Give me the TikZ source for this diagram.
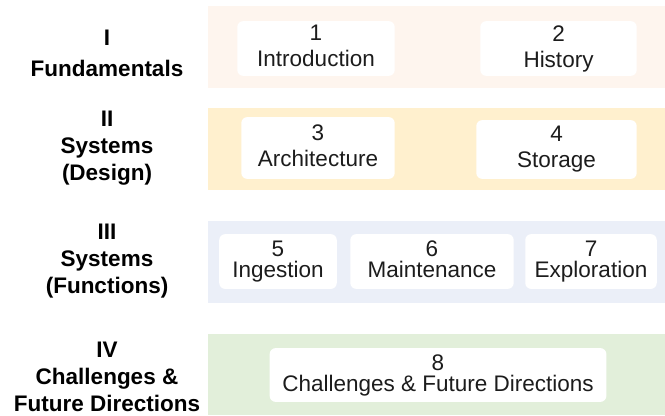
\documentclass[tikz,border=0pt]{standalone}
\usepackage{fontspec}
\setmainfont{Liberation Sans}

\definecolor{bandone}{HTML}{FEF5EE}
\definecolor{bandtwo}{HTML}{FFF0CE}
\definecolor{bandthree}{HTML}{EBEFF8}
\definecolor{bandfour}{HTML}{E2EFDA}
\definecolor{ink}{HTML}{1C1C1C}

\tikzset{
  chapter/.style={fill=white, rounded corners=6bp, align=center, text=ink,
    inner sep=0pt, font=\fontsize{22.5bp}{26bp}\selectfont},
  part/.style={align=center, text=black, inner sep=0pt,
    font=\bfseries\fontsize{22.5bp}{27bp}\selectfont}
}

\begin{document}
\begin{tikzpicture}[x=1bp, y=-1bp]
    \useasboundingbox (0, 0) rectangle (665, 415);

    \fill[bandone] (208, 6) rectangle (665, 88);
    \fill[bandtwo] (208, 108) rectangle (665, 190);
    \fill[bandthree] (208, 221) rectangle (665, 303);
    \fill[bandfour] (208, 334) rectangle (665, 415);

    \node[part] (fund) at (107, 53.5) {I\\[4bp]Fundamentals};
    \node[part] (design) at (107, 148) {II\\Systems\\(Design)};
    \node[part] (func) at (107, 261) {III\\Systems\\(Functions)};
    \node[part] (chall) at (107, 377) {IV\\Challenges \&\\Future Directions};

    \node[chapter, minimum width=158, minimum height=55] (intro) at (316, 48.5) {1\\Introduction\vphantom{g}};
    \node[chapter, minimum width=157, minimum height=55] (hist) at (558.5, 48.5) {2\\History\vphantom{g}};
    \node[chapter, minimum width=154, minimum height=62] (arch) at (318, 148) {3\\Architecture\vphantom{g}};
    \node[chapter, minimum width=161, minimum height=59] (stor) at (556.5, 149.5) {4\\Storage\vphantom{g}};
    \node[chapter, minimum width=118, minimum height=55] (inge) at (278, 261.5) {5\\[-5bp]Ingestion\vphantom{g}};
    \node[chapter, minimum width=164, minimum height=55] (main) at (432, 261.5) {6\\[-5bp]Maintenance\vphantom{g}};
    \node[chapter, minimum width=132, minimum height=55] (expl) at (591, 261.5) {7\\[-5bp]Exploration\vphantom{g}};
    \node[chapter, minimum width=338, minimum height=54] (future) at (438, 375) {8\\[-5bp]Challenges \& Future Directions\vphantom{g}};
  \end{tikzpicture}
\end{document}
